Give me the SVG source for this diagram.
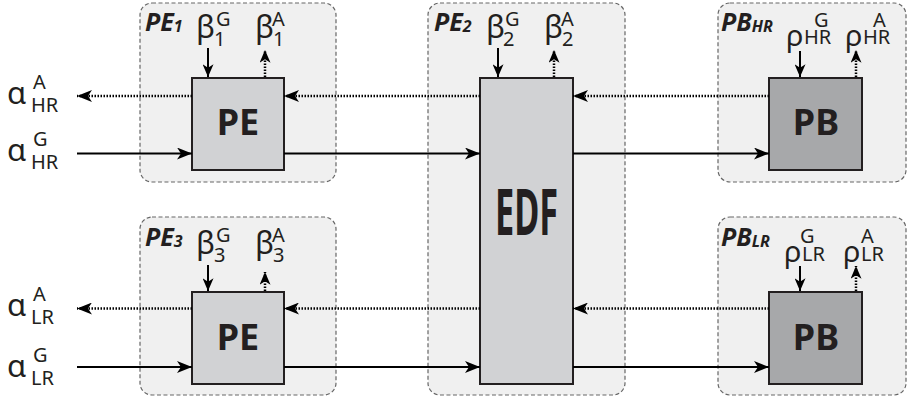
<svg xmlns="http://www.w3.org/2000/svg" width="907" height="401" viewBox="0 0 907 401">
<style>
.cont{fill:#f0f0f0;stroke:#666;stroke-width:1.2;stroke-dasharray:4 2.5}
.pe{fill:#d1d2d4;stroke:#231f20;stroke-width:2}
.pb{fill:#a7a8aa;stroke:#231f20;stroke-width:2}
.solid{stroke:#000;stroke-width:2;fill:none}
.dot{stroke:#000;stroke-width:2.5;stroke-dasharray:1.5 1.5;fill:none}
.gr{font-family:"Noto Sans",sans-serif;font-size:31px;fill:#231f20}
.rho{font-family:"Noto Sans",sans-serif;font-size:29px;fill:#231f20}
.ss{font-family:"Noto Sans",sans-serif;font-size:20px;fill:#231f20}
.lab{font-family:"Noto Sans",sans-serif;font-size:25px;font-weight:bold;font-style:italic;fill:#231f20}
.labs{font-size:16px}
.big{font-family:"Noto Sans",sans-serif;font-size:36px;font-weight:bold;fill:#231f20;text-anchor:middle}
.edf{font-family:"Noto Sans",sans-serif;font-size:64px;font-weight:bold;fill:#231f20;text-anchor:middle}
</style>
<defs>
<marker id="ah" viewBox="0 0 15 12" refX="15" refY="6" markerWidth="15" markerHeight="12" orient="auto" markerUnits="userSpaceOnUse">
<path d="M0,0 L15,6 L0,12 L4,6 Z" fill="#000"/>
</marker>
<marker id="sh" viewBox="0 0 14 12" refX="14" refY="6" markerWidth="14" markerHeight="11" orient="auto" markerUnits="userSpaceOnUse">
<path d="M0,0 L14,6 L0,12 L4,6 Z" fill="#000"/>
</marker>
</defs>

<g id="inputs">
<text class="gr" x="7" y="104">α</text><text class="ss" x="33" y="89">A</text><text class="ss" x="31" y="112">HR</text>
<text class="gr" x="7" y="161">α</text><text class="ss" x="33" y="146">G</text><text class="ss" x="31" y="169">HR</text>
<text class="gr" x="7" y="316">α</text><text class="ss" x="33" y="301">A</text><text class="ss" x="31" y="324">LR</text>
<text class="gr" x="7" y="377">α</text><text class="ss" x="33" y="362">G</text><text class="ss" x="31" y="385">LR</text>
</g>

<g id="PE1">
<rect class="cont" x="140" y="3" width="196" height="179" rx="12"/>
<rect class="pe" x="192" y="78" width="92" height="92"/>
<text class="big" x="238" y="135">PE</text>
<text class="lab" x="145" y="31">PE<tspan class="labs" dy="1">1</tspan></text>
<text class="gr" x="196" y="38">β</text><text class="ss" x="216" y="26">G</text><text class="ss" x="214" y="46">1</text>
<text class="gr" x="255" y="38">β</text><text class="ss" x="272" y="26">A</text><text class="ss" x="273" y="46">1</text>
</g>

<g id="PE3">
<rect class="cont" x="140" y="217" width="196" height="178" rx="12"/>
<rect class="pe" x="192" y="292" width="92" height="92"/>
<text class="big" x="238" y="350">PE</text>
<text class="lab" x="145" y="246">PE<tspan class="labs" dy="1">3</tspan></text>
<text class="gr" x="196" y="254">β</text><text class="ss" x="216" y="242">G</text><text class="ss" x="214" y="262">3</text>
<text class="gr" x="255" y="254">β</text><text class="ss" x="272" y="242">A</text><text class="ss" x="273" y="262">3</text>
</g>

<g id="PE2">
<rect class="cont" x="428" y="3" width="197" height="392" rx="12"/>
<rect class="pe" x="480" y="78" width="93" height="306"/>
<text class="edf" x="526.5" y="235" textLength="63" lengthAdjust="spacingAndGlyphs">EDF</text>
<text class="lab" x="434" y="31">PE<tspan class="labs" dy="1">2</tspan></text>
<text class="gr" x="486" y="38">β</text><text class="ss" x="505" y="26">G</text><text class="ss" x="503" y="46">2</text>
<text class="gr" x="544" y="38">β</text><text class="ss" x="561" y="26">A</text><text class="ss" x="562" y="46">2</text>
</g>

<g id="PB_HR">
<rect class="cont" x="718" y="3" width="188" height="179" rx="12"/>
<rect class="pb" x="769" y="78" width="93" height="92"/>
<text class="big" x="816" y="135">PB</text>
<text class="lab" x="721" y="31">PB<tspan class="labs" dy="1">HR</tspan></text>
<text class="rho" x="786" y="46">ρ</text><text class="ss" x="814" y="27">G</text><text class="ss" x="804" y="44">HR</text>
<text class="rho" x="845" y="46">ρ</text><text class="ss" x="873" y="27">A</text><text class="ss" x="863" y="44">HR</text>
</g>

<g id="PB_LR">
<rect class="cont" x="718" y="217" width="188" height="178" rx="12"/>
<rect class="pb" x="769" y="292" width="93" height="92"/>
<text class="big" x="816" y="350">PB</text>
<text class="lab" x="721" y="246">PB<tspan class="labs" dy="1">LR</tspan></text>
<text class="rho" x="784" y="262">ρ</text><text class="ss" x="800" y="243">G</text><text class="ss" x="802" y="261">LR</text>
<text class="rho" x="843" y="262">ρ</text><text class="ss" x="861" y="243">A</text><text class="ss" x="861" y="261">LR</text>
</g>

<g id="connectors">
<line class="dot" x1="192" y1="96" x2="77" y2="96" marker-end="url(#ah)"/>
<line class="solid" x1="77" y1="153.5" x2="192" y2="153.5" marker-end="url(#ah)"/>
<line class="dot" x1="480" y1="96" x2="284" y2="96" marker-end="url(#ah)"/>
<line class="solid" x1="284" y1="153.5" x2="480" y2="153.5" marker-end="url(#ah)"/>
<line class="dot" x1="769" y1="96" x2="573" y2="96" marker-end="url(#ah)"/>
<line class="solid" x1="573" y1="153.5" x2="769" y2="153.5" marker-end="url(#ah)"/>

<line class="dot" x1="192" y1="308.5" x2="77" y2="308.5" marker-end="url(#ah)"/>
<line class="solid" x1="77" y1="367" x2="192" y2="367" marker-end="url(#ah)"/>
<line class="dot" x1="480" y1="308.5" x2="284" y2="308.5" marker-end="url(#ah)"/>
<line class="solid" x1="284" y1="367" x2="480" y2="367" marker-end="url(#ah)"/>
<line class="dot" x1="769" y1="308.5" x2="573" y2="308.5" marker-end="url(#ah)"/>
<line class="solid" x1="573" y1="367" x2="769" y2="367" marker-end="url(#ah)"/>

<line class="solid" x1="208" y1="48" x2="208" y2="77" marker-end="url(#sh)"/>
<line class="dot" x1="265" y1="77" x2="265" y2="50" marker-end="url(#sh)"/>
<line class="solid" x1="498" y1="48" x2="498" y2="77" marker-end="url(#sh)"/>
<line class="dot" x1="554" y1="77" x2="554" y2="50" marker-end="url(#sh)"/>
<line class="solid" x1="800" y1="51" x2="800" y2="77" marker-end="url(#sh)"/>
<line class="dot" x1="856" y1="77" x2="856" y2="50" marker-end="url(#sh)"/>

<line class="solid" x1="208" y1="265" x2="208" y2="291" marker-end="url(#sh)"/>
<line class="dot" x1="265" y1="291" x2="265" y2="272" marker-end="url(#sh)"/>
<line class="solid" x1="800" y1="266" x2="800" y2="291" marker-end="url(#sh)"/>
<line class="dot" x1="856" y1="291" x2="856" y2="266" marker-end="url(#sh)"/>
</g>
</svg>
